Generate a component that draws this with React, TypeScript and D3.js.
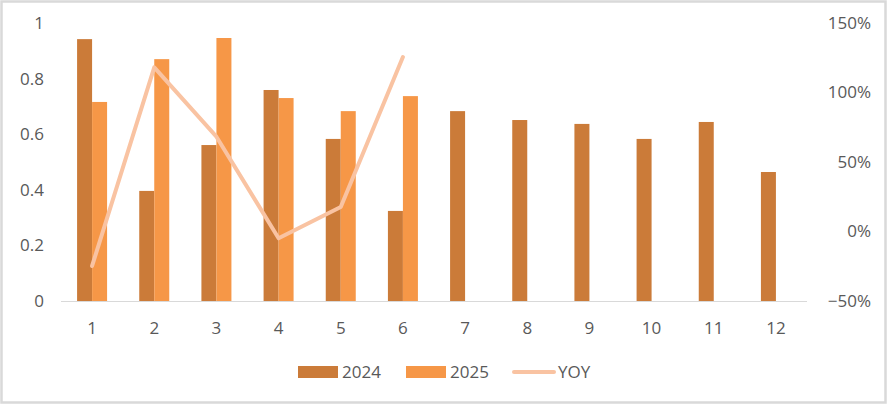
import React, { useEffect, useRef } from 'react';
import * as d3 from 'd3';

const months = ['1', '2', '3', '4', '5', '6', '7', '8', '9', '10', '11', '12'];
const values2024 = [0.942, 0.396, 0.561, 0.759, 0.583, 0.324, 0.683, 0.651, 0.637, 0.583, 0.644, 0.464];
const values2025 = [0.716, 0.870, 0.946, 0.730, 0.683, 0.737];
const yoy = [-0.248, 1.181, 0.682, -0.049, 0.176, 1.255];
const leftTicks = [0, 0.2, 0.4, 0.6, 0.8, 1];
const rightTicks = [-0.5, 0, 0.5, 1, 1.5];

const W = 887;
const H = 404;
const FONT = '"Open Sans", Lato, sans-serif';
const FS = 17;
const C2024 = '#CB7B39';
const C2025 = '#F69747';
const CYOY = '#F9C3A2';
const TEXT = '#595959';

const App: React.FC = () => {
  const svgRef = useRef() as React.MutableRefObject<SVGSVGElement>;

  useEffect(() => {
    const svg = d3.select(svgRef.current);
    svg.html('');

    const left = 61, right = 807, top = 23, bottom = 301;

    // frame
    svg.append('rect')
      .attr('x', 1.5).attr('y', 1.5)
      .attr('width', W - 3).attr('height', H - 3)
      .attr('fill', '#fff')
      .attr('stroke', '#D9D9D9')
      .attr('stroke-width', 2.5);

    const x = d3.scaleBand().domain(months).range([left, right]);
    const y = d3.scaleLinear().domain([0, 1]).range([bottom, top]);
    const y2 = d3.scaleLinear().domain([-0.5, 1.5]).range([bottom, top]);
    const barW = 15;

    // left axis labels
    svg.append('g').selectAll('text').data(leftTicks).join('text')
      .attr('x', 44)
      .attr('y', d => y(d))
      .attr('dy', '0.35em')
      .attr('text-anchor', 'end')
      .attr('font-family', FONT)
      .attr('font-size', FS)
      .attr('fill', TEXT)
      .text(d => d3.format('~g')(d));

    // right axis labels
    svg.append('g').selectAll('text').data(rightTicks).join('text')
      .attr('x', 871)
      .attr('y', d => y2(d))
      .attr('dy', '0.35em')
      .attr('text-anchor', 'end')
      .attr('font-family', FONT)
      .attr('font-size', FS)
      .attr('fill', TEXT)
      .text(d => d3.format('.0%')(d));

    // x labels
    svg.append('g').selectAll('text').data(months).join('text')
      .attr('x', d => x(d)! + x.bandwidth() / 2)
      .attr('y', 328)
      .attr('dy', '0.35em')
      .attr('text-anchor', 'middle')
      .attr('font-family', FONT)
      .attr('font-size', FS)
      .attr('fill', TEXT)
      .text(d => d);

    // bars
    svg.append('g').selectAll('rect').data(values2024).join('rect')
      .attr('x', (d, i) => x(months[i])! + x.bandwidth() / 2 - barW)
      .attr('y', d => y(d))
      .attr('width', barW)
      .attr('height', d => bottom - y(d))
      .attr('fill', C2024);

    svg.append('g').selectAll('rect').data(values2025).join('rect')
      .attr('x', (d, i) => x(months[i])! + x.bandwidth() / 2)
      .attr('y', d => y(d))
      .attr('width', barW)
      .attr('height', d => bottom - y(d))
      .attr('fill', C2025);

    // baseline
    svg.append('line')
      .attr('x1', left).attr('x2', right)
      .attr('y1', bottom + 0.5).attr('y2', bottom + 0.5)
      .attr('stroke', '#D9D9D9')
      .attr('stroke-width', 1);

    // YOY line
    const line = d3.line<number>()
      .x((d, i) => x(months[i])! + x.bandwidth() / 2)
      .y(d => y2(d));
    svg.append('path')
      .datum(yoy)
      .attr('fill', 'none')
      .attr('stroke', CYOY)
      .attr('stroke-width', 4)
      .attr('stroke-linecap', 'round')
      .attr('stroke-linejoin', 'round')
      .attr('d', line);

    // legend
    const lg = svg.append('g').attr('font-family', FONT).attr('font-size', FS).attr('fill', TEXT);
    lg.append('rect').attr('x', 298).attr('y', 366).attr('width', 40).attr('height', 12).attr('fill', C2024);
    lg.append('text').attr('x', 342).attr('y', 372).attr('dy', '0.35em').text('2024');
    lg.append('rect').attr('x', 406).attr('y', 366).attr('width', 40).attr('height', 12).attr('fill', C2025);
    lg.append('text').attr('x', 450).attr('y', 372).attr('dy', '0.35em').text('2025');
    lg.append('line').attr('x1', 514).attr('x2', 554).attr('y1', 372).attr('y2', 372)
      .attr('stroke', CYOY).attr('stroke-width', 4).attr('stroke-linecap', 'round');
    lg.append('text').attr('x', 558).attr('y', 372).attr('dy', '0.35em').text('YOY');
  }, []);

  return (
    <svg
      ref={svgRef}
      width={W}
      height={H}
      viewBox={`0 0 ${W} ${H}`}
      style={{ position: 'absolute', left: 0, top: 0, display: 'block' }}
    />
  );
};

export default App;
